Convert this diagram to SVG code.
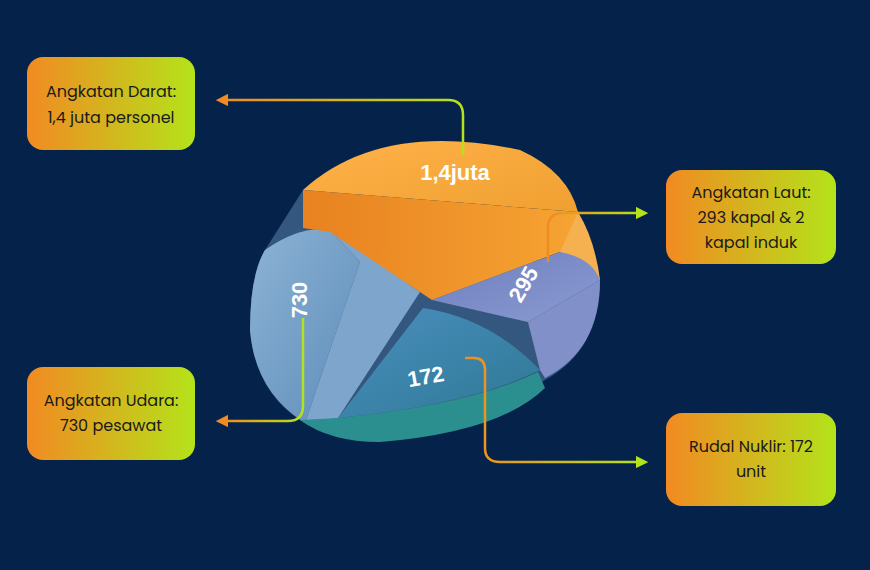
<svg xmlns="http://www.w3.org/2000/svg" width="870" height="570" viewBox="0 0 870 570">
<defs>
<linearGradient id="box" x1="0" y1="0" x2="1" y2="0"><stop offset="0" stop-color="#f28a22"/><stop offset="1" stop-color="#b4e31a"/></linearGradient>
<linearGradient id="lnL" x1="1" y1="0" x2="0" y2="0"><stop offset="0" stop-color="#b4e31a"/><stop offset="1" stop-color="#f28a22"/></linearGradient>
<linearGradient id="lnR" x1="0" y1="0" x2="1" y2="0"><stop offset="0" stop-color="#f28a22"/><stop offset="1" stop-color="#b4e31a"/></linearGradient>
<linearGradient id="or" x1="0" y1="0" x2="1" y2="1"><stop offset="0" stop-color="#ffb24a"/><stop offset="1" stop-color="#f0a030"/></linearGradient>
<linearGradient id="orS" x1="0" y1="0" x2="1" y2="0"><stop offset="0" stop-color="#e88220"/><stop offset="1" stop-color="#f7a634"/></linearGradient>
<linearGradient id="bl" x1="0" y1="0" x2="1" y2="1"><stop offset="0" stop-color="#8db3d6"/><stop offset="1" stop-color="#5d8cb8"/></linearGradient>
<linearGradient id="tl" x1="0" y1="0" x2="1" y2="1"><stop offset="0" stop-color="#4b8fbf"/><stop offset="1" stop-color="#2d7894"/></linearGradient>
<linearGradient id="pu" x1="0" y1="0" x2="1" y2="1"><stop offset="0" stop-color="#6d7fc0"/><stop offset="1" stop-color="#8b9ad0"/></linearGradient>
<marker id="ao" viewBox="0 0 10 10" refX="5" refY="5" markerWidth="5" markerHeight="5" orient="auto"><path d="M0,0L10,5L0,10Z" fill="#f28a22"/></marker>
<marker id="ag" viewBox="0 0 10 10" refX="5" refY="5" markerWidth="5" markerHeight="5" orient="auto"><path d="M0,0L10,5L0,10Z" fill="#b4e31a"/></marker>
</defs>
<style>
.bx{fill:url(#box)}
.t{font-family:"Poppins","Liberation Sans",sans-serif;font-size:16px;fill:#1a1a1a;text-anchor:middle}
.v{font-family:"Liberation Sans",sans-serif;font-size:22px;font-weight:bold;fill:#fff;text-anchor:middle}
.c{fill:none;stroke-width:2.5}
</style>
<rect width="870" height="570" fill="#05234a"/>
<g id="pie">
<path d="M303,190 L432,235 L600,280 Q600,350 545,380 Q470,430 380,440 Q330,440 300,420 Q255,390 250,330 Q250,275 265,250Z" fill="#34577f"/>
<path d="M265,250 Q300,225 330,230 L360,262 L305,423 Q255,392 250,330 Q250,275 265,250Z" fill="url(#bl)"/>
<path d="M330,230 L420,292 L338,418 L305,423 L360,262Z" fill="#7ea6cc"/>
<path d="M300,420 Q330,442 380,442 Q500,432 545,388 L538,372 Q470,405 338,418Z" fill="#2b8f8f"/>
<path d="M338,418 L423,308 Q490,318 540,370 Q470,405 338,418Z" fill="url(#tl)"/>
<path d="M303,190 L578,212 L600,280 L560,252 L432,300 L330,232 L303,228Z" fill="url(#orS)"/>
<path d="M303,190 Q380,120 520,150 Q568,172 578,212Z" fill="url(#or)"/>
<path d="M578,212 Q595,240 600,280 L560,252Z" fill="#f5b050"/>
<path d="M432,300 L560,252 Q592,258 600,280 L528,322Z" fill="url(#pu)"/>
<path d="M528,322 L600,280 Q600,350 545,378 L540,370Z" fill="#8190c8"/>
<text class="v" x="455" y="180">1,4juta</text>
<text class="v" transform="translate(530,288) rotate(-60)">295</text>
<text class="v" transform="translate(307,300) rotate(-90)">730</text>
<text class="v" transform="translate(427,384) rotate(-10)">172</text>
</g>
<g id="connectors">
<path class="c" stroke="url(#lnL)" d="M463,155 V115 Q463,100 448,100 H222" marker-end="url(#ao)"/>
<path class="c" stroke="url(#lnR)" d="M548,262 V228 Q548,213 563,213 H642" marker-end="url(#ag)"/>
<path class="c" stroke="url(#lnL)" d="M303,318 V406 Q303,421 288,421 H222" marker-end="url(#ao)"/>
<path class="c" stroke="url(#lnR)" d="M465,358 H474 Q485,358 485,370 V448 Q485,462 500,462 H642" marker-end="url(#ag)"/>
</g>
<g id="n1"><rect class="bx" x="27" y="57" width="168" height="93" rx="16"/><text class="t" x="111" y="97">Angkatan Darat:</text><text class="t" x="111" y="123">1,4 juta personel</text></g>
<g id="n2"><rect class="bx" x="666" y="170" width="170" height="94" rx="16"/><text class="t" x="751" y="198">Angkatan Laut:</text><text class="t" x="751" y="223">293 kapal &amp; 2</text><text class="t" x="751" y="248">kapal induk</text></g>
<g id="n3"><rect class="bx" x="27" y="367" width="168" height="93" rx="16"/><text class="t" x="111" y="406">Angkatan Udara:</text><text class="t" x="111" y="431">730 pesawat</text></g>
<g id="n4"><rect class="bx" x="666" y="413" width="170" height="93" rx="16"/><text class="t" x="751" y="452">Rudal Nuklir: 172</text><text class="t" x="751" y="477">unit</text></g>
</svg>
